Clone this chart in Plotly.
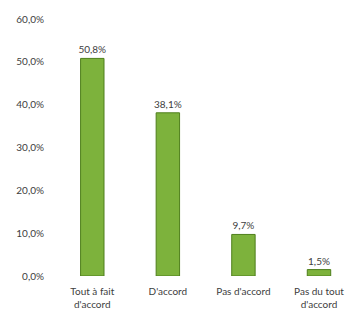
import plotly.graph_objects as go

categories = ["Tout à fait<br>d'accord", "D'accord", "Pas d'accord", "Pas du tout<br>d'accord"]
values = [50.8, 38.1, 9.7, 1.5]
tick_vals = [0, 10, 20, 30, 40, 50, 60]
tick_text = ["0,0%", "10,0%", "20,0%", "30,0%", "40,0%", "50,0%", "60,0%"]

fig = go.Figure(go.Bar(
    x=categories, y=values,
    marker=dict(color="#7db23c", line=dict(color="#4f7f1c", width=1)),
    width=0.31,
    texttemplate="%{y:.1f}%", textposition="outside",
    textfont=dict(size=10, color="#404040"),
    constraintext="none",
    cliponaxis=False,
))

fig.update_layout(
    width=345, height=303,
    margin=dict(l=45, r=0, t=11, b=35),
    paper_bgcolor="white", plot_bgcolor="white",
    separators=",.",
    font=dict(family="Lato", size=10, color="#404040"),
    showlegend=False,
)
fig.update_xaxes(range=[-0.52, 3.45], showline=False, ticks="", tickfont=dict(size=10),
                 automargin=False, ticklabelstandoff=8)
fig.update_yaxes(range=[0, 60], tickvals=tick_vals, ticktext=tick_text,
                 showgrid=False, zeroline=False, showline=False, automargin=False,
                 ticklabelstandoff=8, tickfont=dict(size=10))

fig.write_html("out.html")
